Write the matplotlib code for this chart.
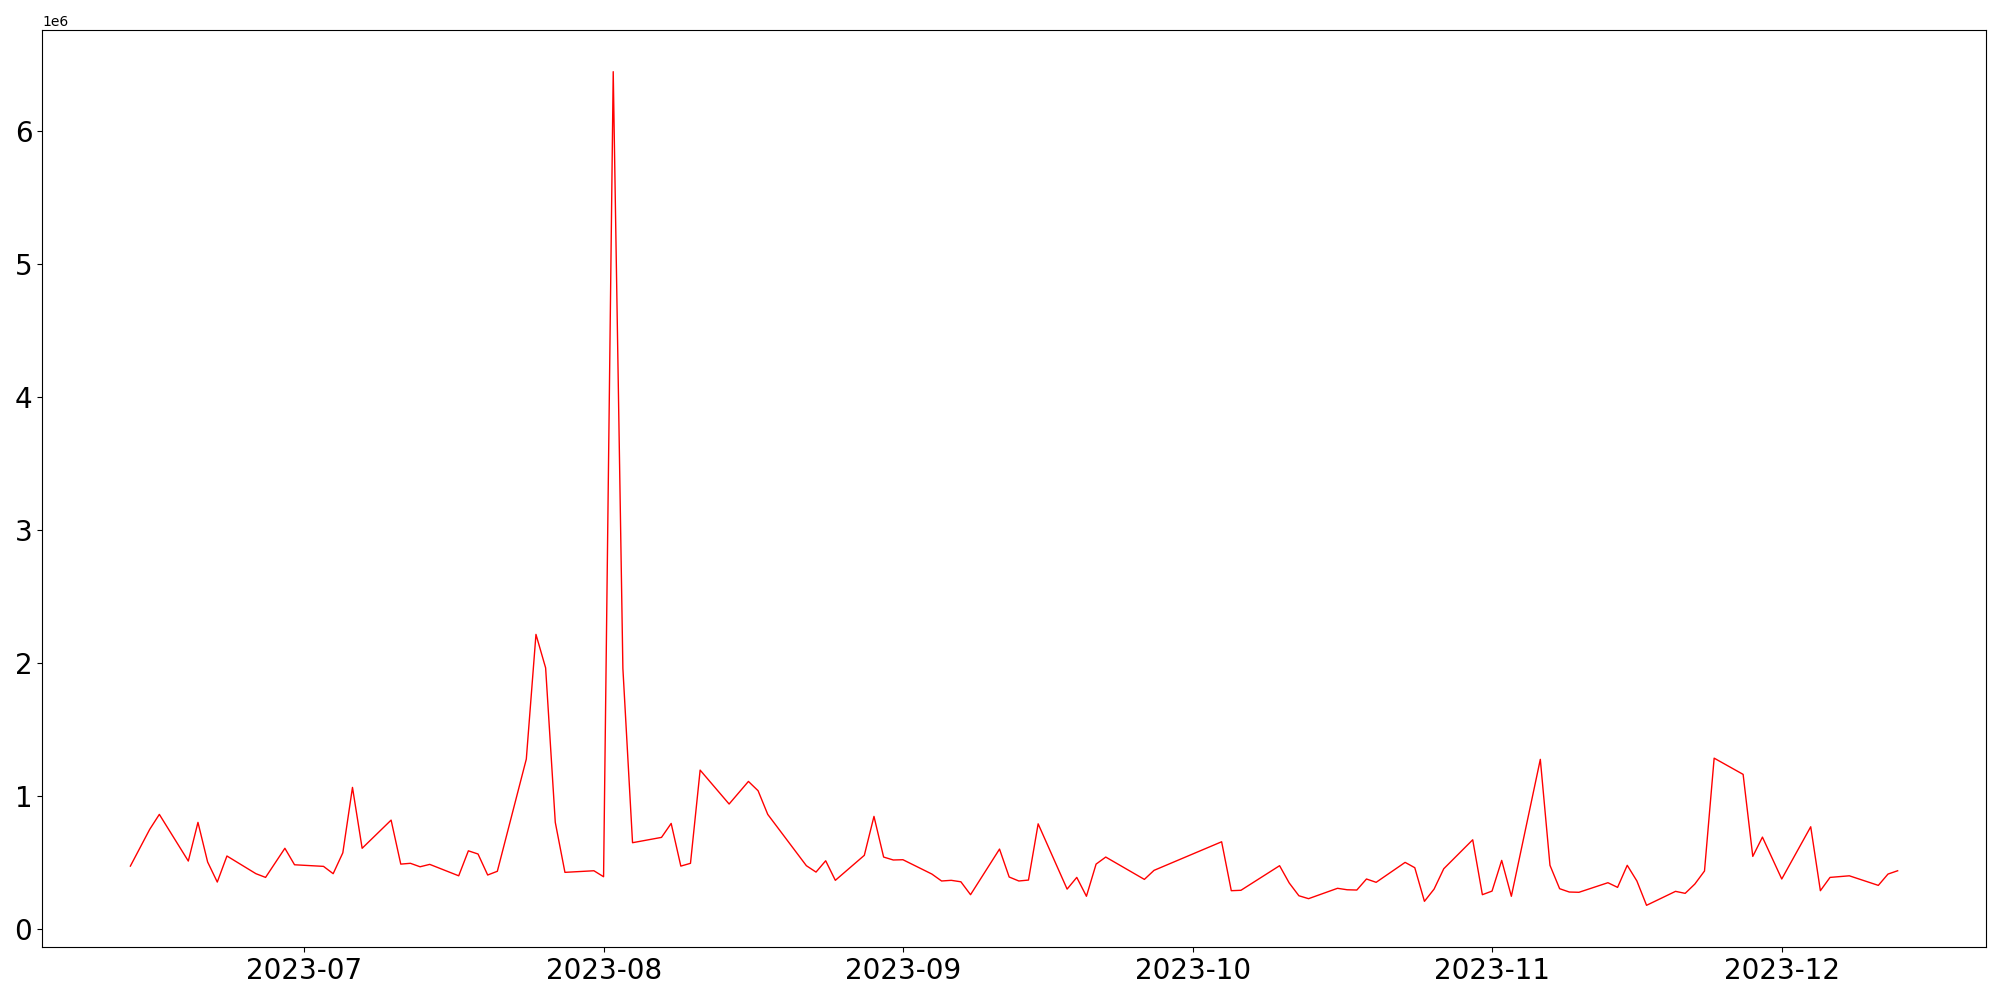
import matplotlib
matplotlib.use("Agg")
import matplotlib.pyplot as plt
import pandas as pd

# daily values
dates = [
    "2023-06-13", "2023-06-15", "2023-06-16", "2023-06-19", "2023-06-20", "2023-06-21",
    "2023-06-22", "2023-06-23", "2023-06-26", "2023-06-27", "2023-06-29", "2023-06-30",
    "2023-07-03", "2023-07-04", "2023-07-05", "2023-07-06", "2023-07-07", "2023-07-10",
    "2023-07-11", "2023-07-12", "2023-07-13", "2023-07-14", "2023-07-17", "2023-07-18",
    "2023-07-19", "2023-07-20", "2023-07-21", "2023-07-24", "2023-07-25", "2023-07-26",
    "2023-07-27", "2023-07-28", "2023-07-31", "2023-08-01", "2023-08-02", "2023-08-03",
    "2023-08-04", "2023-08-07", "2023-08-08", "2023-08-09", "2023-08-10", "2023-08-11",
    "2023-08-14", "2023-08-16", "2023-08-17", "2023-08-18", "2023-08-22", "2023-08-23",
    "2023-08-24", "2023-08-25", "2023-08-28", "2023-08-29", "2023-08-30", "2023-08-31",
    "2023-09-01", "2023-09-04", "2023-09-05", "2023-09-06", "2023-09-07", "2023-09-08",
    "2023-09-11", "2023-09-12", "2023-09-13", "2023-09-14", "2023-09-15", "2023-09-18",
    "2023-09-19", "2023-09-20", "2023-09-21", "2023-09-22", "2023-09-26", "2023-09-27",
    "2023-10-04", "2023-10-05", "2023-10-06", "2023-10-10", "2023-10-11", "2023-10-12",
    "2023-10-13", "2023-10-16", "2023-10-17", "2023-10-18", "2023-10-19", "2023-10-20",
    "2023-10-23", "2023-10-24", "2023-10-25", "2023-10-26", "2023-10-27", "2023-10-30",
    "2023-10-31", "2023-11-01", "2023-11-02", "2023-11-03", "2023-11-06", "2023-11-07",
    "2023-11-08", "2023-11-09", "2023-11-10", "2023-11-13", "2023-11-14", "2023-11-15",
    "2023-11-16", "2023-11-17", "2023-11-20", "2023-11-21", "2023-11-22", "2023-11-23",
    "2023-11-24", "2023-11-27", "2023-11-28", "2023-11-29", "2023-12-01", "2023-12-04",
    "2023-12-05", "2023-12-06", "2023-12-08", "2023-12-11", "2023-12-12", "2023-12-13",
]

values = [
    471000, 747000, 860000, 509000, 800000, 502000,
    351000, 547000, 414000, 386000, 605000, 481000,
    469000, 414000, 571000, 1063000, 605000, 817000,
    486000, 492000, 466000, 484000, 398000, 586000,
    562000, 404000, 432000, 1276000, 2214000, 1962000,
    800000, 424000, 436000, 391000, 6447000, 1958000,
    647000, 687000, 792000, 471000, 492000, 1193000,
    938000, 1108000, 1038000, 860000, 474000, 426000,
    511000, 364000, 552000, 845000, 539000, 517000,
    519000, 411000, 359000, 364000, 353000, 256000,
    599000, 389000, 359000, 366000, 789000, 298000,
    386000, 244000, 486000, 539000, 371000, 439000,
    654000, 286000, 289000, 474000, 344000, 248000,
    226000, 304000, 293000, 291000, 374000, 349000,
    499000, 459000, 206000, 298000, 451000, 669000,
    256000, 283000, 514000, 244000, 1274000, 477000,
    301000, 276000, 274000, 346000, 311000, 477000,
    359000, 176000, 281000, 266000, 336000, 434000,
    1283000, 1161000, 544000, 689000, 374000, 767000,
    286000, 386000, 398000, 326000, 411000, 436000,
]

x = pd.to_datetime(dates)

fig, ax = plt.subplots(figsize=(20, 10), dpi=100)
ax.plot(x, values, color='red', linewidth=1.0)

ax.tick_params(axis='both', labelsize=20)
fig.subplots_adjust(left=0.021, right=0.993, top=0.970, bottom=0.053)

fig.savefig("out.png")
plt.close(fig)
